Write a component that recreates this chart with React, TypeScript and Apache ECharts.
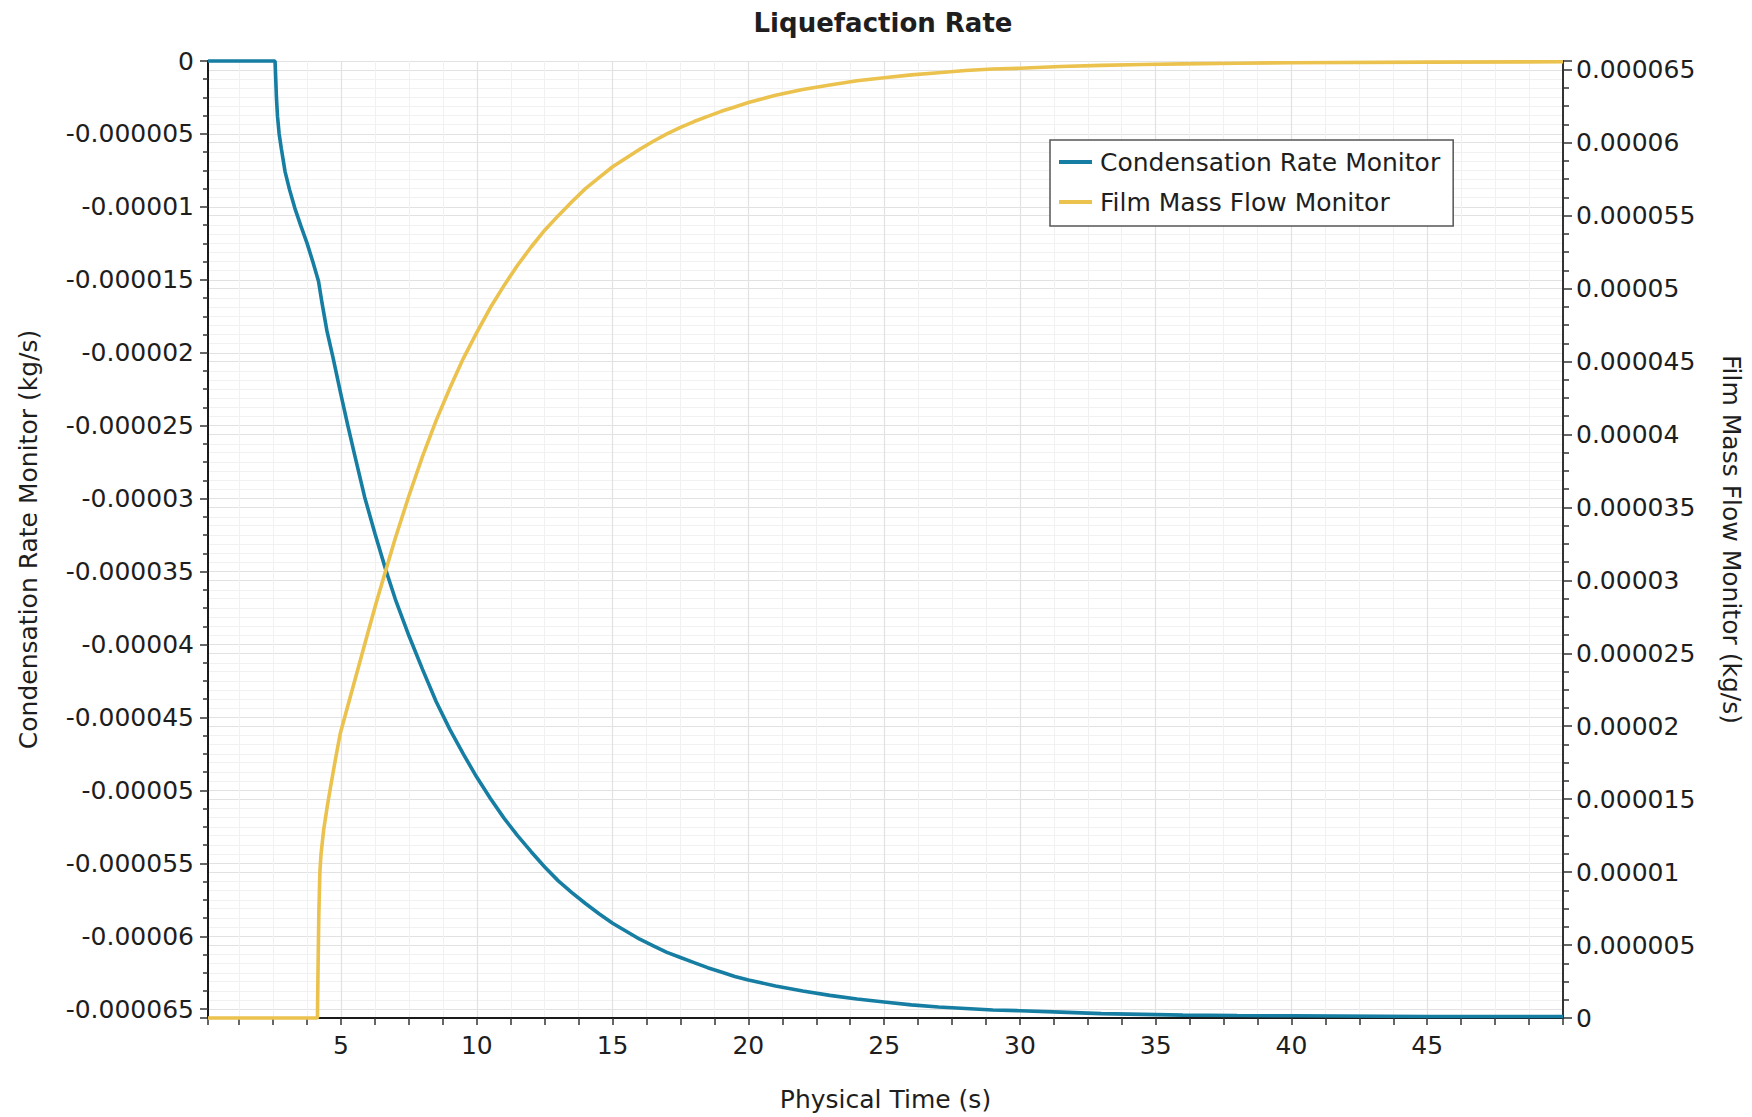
import React, { useEffect, useRef } from "react";
import * as echarts from "echarts";

const TITLE = "Liquefaction Rate";
const X_NAME = "Physical Time (s)";
const LEFT_NAME = "Condensation Rate Monitor (kg/s)";
const RIGHT_NAME = "Film Mass Flow Monitor (kg/s)";
const SERIES_NAMES = ["Condensation Rate Monitor", "Film Mass Flow Monitor"];

// Condensation Rate Monitor (left axis, kg/s)
const condTime = [
  0.1, 2.57, 2.59, 2.62, 2.66, 2.72, 2.8, 2.94, 3.1, 3.3, 3.52, 3.75, 3.95, 4.17,
  4.3, 4.48, 4.7, 5.0, 5.25, 5.5, 5.87, 6.25, 6.65, 7.0, 7.5, 8.0, 8.5, 9.0, 9.5,
  10, 10.5, 11, 11.5, 12, 12.5, 13, 13.5, 14, 14.5, 15, 15.5, 16, 16.5, 17, 17.5,
  18, 18.5, 19, 19.5, 20, 21, 22, 23, 24, 25, 26, 27, 28, 29, 30, 31.5, 33, 34.5,
  36, 38, 40, 45, 50,
];
const condValue = [
  0, 0, -1.0e-6, -2.5e-6, -3.8e-6, -5.0e-6, -6.0e-6, -7.6e-6, -8.8e-6, -10.1e-6,
  -11.3e-6, -12.5e-6, -13.7e-6, -15.1e-6, -16.6e-6, -18.5e-6, -20.3e-6, -22.9e-6,
  -25.0e-6, -27.0e-6, -29.9e-6, -32.4e-6, -34.9e-6, -36.9e-6, -39.4e-6, -41.7e-6,
  -43.9e-6, -45.8e-6, -47.5e-6, -49.1e-6, -50.55e-6, -51.9e-6, -53.1e-6, -54.2e-6,
  -55.25e-6, -56.2e-6, -57.0e-6, -57.75e-6, -58.45e-6, -59.1e-6, -59.65e-6,
  -60.2e-6, -60.65e-6, -61.1e-6, -61.45e-6, -61.8e-6, -62.15e-6, -62.45e-6,
  -62.75e-6, -63.0e-6, -63.4e-6, -63.75e-6, -64.05e-6, -64.3e-6, -64.5e-6,
  -64.7e-6, -64.85e-6, -64.95e-6, -65.05e-6, -65.1e-6, -65.2e-6, -65.3e-6,
  -65.35e-6, -65.4e-6, -65.43e-6, -65.45e-6, -65.5e-6, -65.5e-6,
];

// Film Mass Flow Monitor (right axis, kg/s)
const filmTime = [
  0.1, 4.13, 4.15, 4.18, 4.22, 4.26, 4.36, 4.5, 4.61, 4.79, 4.97, 5.22, 5.47, 5.75,
  6.0, 6.3, 6.65, 7.0, 7.5, 8.0, 8.5, 9.0, 9.5, 10, 10.5, 11, 11.5, 12, 12.5, 13,
  13.5, 14, 14.5, 15, 15.5, 16, 16.5, 17, 17.5, 18, 18.5, 19, 19.5, 20, 21, 22, 23,
  24, 25, 26, 27, 28, 29, 30, 31.5, 33, 34.5, 36, 38, 40, 45, 50,
];
const filmValue = [
  0, 0, 3.0e-6, 7.0e-6, 10.0e-6, 11.2e-6, 12.9e-6, 14.6e-6, 15.8e-6, 17.7e-6,
  19.5e-6, 21.2e-6, 22.9e-6, 24.8e-6, 26.5e-6, 28.5e-6, 30.7e-6, 32.9e-6, 35.8e-6,
  38.5e-6, 40.95e-6, 43.15e-6, 45.2e-6, 47.0e-6, 48.7e-6, 50.2e-6, 51.6e-6,
  52.85e-6, 54.0e-6, 55.0e-6, 55.95e-6, 56.85e-6, 57.6e-6, 58.35e-6, 58.95e-6,
  59.55e-6, 60.1e-6, 60.6e-6, 61.05e-6, 61.45e-6, 61.8e-6, 62.15e-6, 62.45e-6,
  62.75e-6, 63.25e-6, 63.65e-6, 63.95e-6, 64.25e-6, 64.45e-6, 64.65e-6, 64.8e-6,
  64.95e-6, 65.05e-6, 65.1e-6, 65.22e-6, 65.3e-6, 65.36e-6, 65.4e-6, 65.45e-6,
  65.48e-6, 65.52e-6, 65.55e-6,
];

const xTickLabels = ["5", "10", "15", "20", "25", "30", "35", "40", "45"];
const leftTickLabels = [
  "0", "-0.000005", "-0.00001", "-0.000015", "-0.00002", "-0.000025", "-0.00003",
  "-0.000035", "-0.00004", "-0.000045", "-0.00005", "-0.000055", "-0.00006", "-0.000065",
];
const rightTickLabels = [
  "0", "0.000005", "0.00001", "0.000015", "0.00002", "0.000025", "0.00003",
  "0.000035", "0.00004", "0.000045", "0.00005", "0.000055", "0.00006", "0.000065",
];

const BLUE = "#167EA3";
const YELLOW = "#EBC24E";
const FONT = '"DejaVu Sans", "Noto Sans", sans-serif';
const TEXT = "#1e1e1e";

function fmtSmall(v: number): string {
  const r = Math.round(v / 5e-6);
  if (Math.abs(v - r * 5e-6) > 1e-10) return "";
  if (r === 0) return "0";
  let s = (r * 5e-6).toFixed(6);
  s = s.replace(/0+$/, "").replace(/\.$/, "");
  return s;
}

export default function App() {
  const ref = useRef<HTMLDivElement>(null);
  useEffect(() => {
    if (!ref.current) return;
    const chart = echarts.init(ref.current, undefined, { renderer: "svg" });
    const axisLineStyle = { color: "#1a1a1a", width: 2 };
    const tickStyle = { color: "#333", width: 1.5 };
    const splitStyle = { color: "#e2e2e2", width: 1.2 };
    const minorSplitStyle = { color: "#f1f1f1", width: 1 };
    const option: any = {
      animation: false,
      backgroundColor: "#ffffff",
      textStyle: { fontFamily: FONT },
      graphic: [
        {
          type: "text",
          x: 883,
          y: 23,
          style: {
            text: TITLE,
            fill: TEXT,
            fontFamily: FONT,
            fontSize: 26,
            fontWeight: "bold",
            align: "center",
            verticalAlign: "middle",
          },
        },
      ],
      legend: {
        orient: "vertical",
        left: 1050,
        top: 140,
        data: SERIES_NAMES,
        icon: "rect",
        itemWidth: 33,
        itemHeight: 4,
        itemGap: 10,
        padding: [7, 13, 9, 9],
        backgroundColor: "#ffffff",
        borderColor: "#555555",
        borderWidth: 1.5,
        borderRadius: 0,
        textStyle: {
          fontFamily: FONT,
          fontSize: 25,
          color: TEXT,
          lineHeight: 30,
          padding: [0, 0, 0, 3],
        },
      },
      grid: { left: 208, right: 189, top: 61, bottom: 92, containLabel: false },
      xAxis: {
        type: "value",
        min: 0.1,
        max: 50,
        splitNumber: 10,
        minInterval: 5,
        maxInterval: 5,
        name: X_NAME,
        nameLocation: "middle",
        nameGap: 68,
        nameTextStyle: { fontFamily: FONT, fontSize: 25, color: TEXT, lineHeight: 26 },
        axisLine: { show: true, onZero: false, lineStyle: axisLineStyle },
        axisTick: { show: true, length: 7, lineStyle: tickStyle },
        minorTick: { show: true, splitNumber: 4, length: 7, lineStyle: tickStyle },
        axisLabel: {
          fontFamily: FONT,
          fontSize: 25,
          color: TEXT,
          margin: 15,
          formatter: (v: number) => {
            const s = String(Math.round(v));
            return Math.abs(v - Math.round(v)) < 1e-6 && xTickLabels.includes(s) ? s : "";
          },
        },
        splitLine: { show: true, lineStyle: splitStyle },
        minorSplitLine: { show: true, lineStyle: minorSplitStyle },
      },
      yAxis: [
        {
          type: "value",
          position: "left",
          min: -6.56e-5,
          max: 0,
          splitNumber: 13,
          minInterval: 5e-6,
          maxInterval: 5e-6,
          name: LEFT_NAME,
          nameLocation: "middle",
          nameRotate: 90,
          nameGap: 167,
          nameTextStyle: { fontFamily: FONT, fontSize: 25, color: TEXT, lineHeight: 26 },
          axisLine: { show: true, onZero: false, lineStyle: axisLineStyle },
          axisTick: { show: true, length: 8, lineStyle: tickStyle },
          minorTick: { show: true, splitNumber: 4, length: 5, lineStyle: tickStyle },
          axisLabel: {
            fontFamily: FONT,
            fontSize: 25,
            color: TEXT,
            margin: 14,
            formatter: (v: number) => {
              const s = fmtSmall(v);
              return leftTickLabels.includes(s) ? s : "";
            },
          },
          splitLine: { show: true, lineStyle: splitStyle },
          minorSplitLine: { show: true, lineStyle: minorSplitStyle },
        },
        {
          type: "value",
          position: "right",
          min: 0,
          max: 6.56e-5,
          splitNumber: 13,
          minInterval: 5e-6,
          maxInterval: 5e-6,
          name: RIGHT_NAME,
          nameLocation: "middle",
          nameRotate: -90,
          nameGap: 155,
          nameTextStyle: { fontFamily: FONT, fontSize: 25, color: TEXT, lineHeight: 26 },
          axisLine: { show: true, onZero: false, lineStyle: { color: "#333", width: 2 } },
          axisTick: { show: true, length: 9, lineStyle: tickStyle },
          minorTick: { show: true, splitNumber: 4, length: 6, lineStyle: tickStyle },
          axisLabel: {
            fontFamily: FONT,
            fontSize: 25,
            color: TEXT,
            margin: 13,
            formatter: (v: number) => {
              const s = fmtSmall(v);
              return rightTickLabels.includes(s) ? s : "";
            },
          },
          splitLine: { show: true, lineStyle: splitStyle },
          minorSplitLine: { show: true, lineStyle: minorSplitStyle },
        },
      ],
      series: [
        {
          name: SERIES_NAMES[0],
          type: "line",
          yAxisIndex: 0,
          data: condTime.map((t, i) => [t, condValue[i]]),
          showSymbol: false,
          symbol: "none",
          clip: false,
          lineStyle: { color: BLUE, width: 3.6 },
          itemStyle: { color: BLUE },
        },
        {
          name: SERIES_NAMES[1],
          type: "line",
          yAxisIndex: 1,
          data: filmTime.map((t, i) => [t, filmValue[i]]),
          showSymbol: false,
          symbol: "none",
          clip: false,
          lineStyle: { color: YELLOW, width: 3.6 },
          itemStyle: { color: YELLOW },
        },
      ],
    };
    chart.setOption(option);
    return () => chart.dispose();
  }, []);
  return (
    <div
      ref={ref}
      style={{ position: "fixed", left: 0, top: 0, width: 1752, height: 1117, background: "#fff" }}
    />
  );
}
